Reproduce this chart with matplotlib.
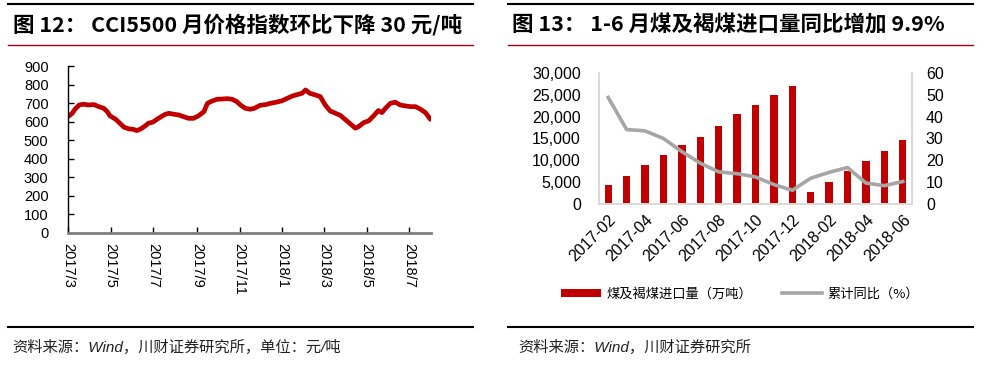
import matplotlib
matplotlib.use("Agg")
import matplotlib.pyplot as plt
from matplotlib.lines import Line2D
from matplotlib.patches import Patch
import pandas as pd
import numpy as np

plt.rcParams['font.family'] = ['Liberation Sans', 'Noto Sans CJK SC', 'DejaVu Sans']

# ---------------- Data: left chart (CCI5500 price index, yuan/ton) ----------------
cci_dates = ['2017-03-01','2017-03-07','2017-03-11','2017-03-17','2017-03-23','2017-03-30',
             '2017-04-07','2017-04-14','2017-04-21','2017-04-26','2017-04-30','2017-05-08',
             '2017-05-15','2017-05-20','2017-05-27','2017-06-02','2017-06-07','2017-06-12',
             '2017-06-18','2017-06-24','2017-06-30','2017-07-06','2017-07-12','2017-07-18',
             '2017-07-23','2017-07-30','2017-08-06','2017-08-13','2017-08-20','2017-08-27',
             '2017-09-03','2017-09-11','2017-09-16','2017-09-23','2017-09-30','2017-10-07',
             '2017-10-14','2017-10-21','2017-10-28','2017-11-02','2017-11-09','2017-11-16',
             '2017-11-22','2017-11-30','2017-12-08','2017-12-15','2017-12-23','2017-12-31',
             '2018-01-08','2018-01-15','2018-01-22','2018-01-29','2018-02-03','2018-02-09',
             '2018-02-17','2018-02-24','2018-03-03','2018-03-10','2018-03-18','2018-03-25',
             '2018-04-01','2018-04-08','2018-04-15','2018-04-20','2018-04-27','2018-05-04',
             '2018-05-11','2018-05-18','2018-05-23','2018-05-28','2018-06-04','2018-06-11',
             '2018-06-18','2018-06-25','2018-07-03','2018-07-10','2018-07-17','2018-07-24',
             '2018-07-31']
cci_values = [627, 645, 667, 690, 694, 690,
              692, 681, 672, 654, 631, 613,
              588, 570, 561, 559, 552, 559,
              574, 592, 597, 613, 627, 640,
              645, 640, 636, 627, 618, 618,
              631, 654, 699, 712, 721, 722,
              724, 721, 708, 690, 672, 667,
              672, 688, 692, 699, 705, 712,
              726, 738, 746, 753, 771, 753,
              744, 735, 690, 658, 645, 633,
              610, 588, 565, 574, 595, 604,
              631, 660, 649, 672, 699, 705,
              690, 685, 681, 681, 667, 649,
              613]
left_tick_labels = ['2017/3', '2017/5', '2017/7', '2017/9', '2017/11',
                    '2018/1', '2018/3', '2018/5', '2018/7']
left_yticks = [0, 100, 200, 300, 400, 500, 600, 700, 800, 900]
left_xlim = ['2017-03-01', '2018-08-01']

# ---------------- Data: right chart (coal & lignite imports) ----------------
months = ['2017-02','2017-03','2017-04','2017-05','2017-06','2017-07','2017-08','2017-09',
          '2017-10','2017-11','2017-12','2018-01','2018-02','2018-03','2018-04','2018-05',
          '2018-06']
imports = [4300, 6500, 9000, 11200, 13400, 15300, 17800, 20600,
           22700, 24900, 27100, 2800, 5000, 7600, 9900, 12100, 14700]
yoy = [48.8, 34.1, 33.5, 30.0, 24.0, 18.7, 14.7, 13.9,
       12.4, 8.9, 6.3, 11.8, 14.5, 16.7, 9.6, 8.4, 10.3]
right_tick_labels = ['2017-02','2017-04','2017-06','2017-08','2017-10','2017-12',
                     '2018-02','2018-04','2018-06']
bar_label = '煤及褐煤进口量（万吨）'
line_label = '累计同比（%）'

title_left = '图 12： CCI5500 月价格指数环比下降 30 元/吨'
title_right = '图 13： 1-6 月煤及褐煤进口量同比增加 9.9%'
source_left = '资料来源：Wind，川财证券研究所，单位：元/吨'
source_right = '资料来源：Wind，川财证券研究所'

RED = '#C00000'
GREY = '#A6A6A6'

W, H = 995, 368
fig = plt.figure(figsize=(W / 100, H / 100), dpi=100)

def fx(px):
    return px / W

def fy(py):
    return 1 - py / H

# Decorative rules
for x0, x1 in [(8, 473), (508, 973)]:
    fig.add_artist(Line2D([fx(x0), fx(x1)], [fy(4), fy(4)], color='black', lw=1.5))
    fig.add_artist(Line2D([fx(x0), fx(x1)], [fy(45), fy(45)], color='#A0001E', lw=1.0))
    fig.add_artist(Line2D([fx(x0), fx(x1)], [fy(327), fy(327)], color='black', lw=1.5))

title_font = ['Noto Sans CJK SC', 'DejaVu Sans']
fig.text(fx(13), fy(25), title_left, family=title_font, fontsize=15.5, fontweight='bold',
         va='center', ha='left', color='black')
fig.text(fx(512), fy(25), title_right, family=title_font, fontsize=15.5, fontweight='bold',
         va='center', ha='left', color='black')

src_font = ['Liberation Sans', 'Noto Sans CJK SC']
fig.text(fx(12), fy(347), source_left, family=src_font, fontsize=11, style='italic',
         va='center', ha='left', color='#222222')
fig.text(fx(518), fy(347), source_right, family=src_font, fontsize=11, style='italic',
         va='center', ha='left', color='#222222')

# ---------------- Left chart ----------------
axL = fig.add_axes([fx(68), fy(233), fx(431) - fx(68), fy(66) - fy(233)])
d = pd.to_datetime(cci_dates)
axL.plot(d, cci_values, color=RED, lw=3.4, solid_joinstyle='round', solid_capstyle='round')
axL.set_ylim(0, 900)
axL.set_yticks(left_yticks)
axL.set_xlim(pd.to_datetime(left_xlim[0]), pd.to_datetime(left_xlim[1]))
tick_pos = pd.to_datetime(left_tick_labels, format='%Y/%m')
axL.set_xticks(tick_pos)
axL.set_xticklabels(left_tick_labels, rotation=-90, ha='center', va='top')
for s in ['top', 'right']:
    axL.spines[s].set_visible(False)
axL.spines['left'].set_color('black')
axL.spines['left'].set_linewidth(1.0)
axL.spines['bottom'].set_color('#808080')
axL.spines['bottom'].set_linewidth(2.0)
axL.tick_params(axis='y', direction='in', length=4, width=1, labelsize=10.5, pad=14)
axL.tick_params(axis='x', direction='in', length=4, width=1, labelsize=10.5, pad=7)

# ---------------- Right chart ----------------
axR = fig.add_axes([fx(599), fy(204), fx(912) - fx(599), fy(73) - fy(204)])
x = np.arange(len(months))
bars = axR.bar(x, imports, width=0.4, color=RED, label=bar_label)
axR.set_ylim(0, 30000)
axR.set_yticks(np.arange(0, 30001, 5000))
axR.yaxis.set_major_formatter(matplotlib.ticker.FuncFormatter(lambda v, p: f'{int(v):,}'))
axR.set_xlim(-0.5, len(months) - 0.5)
axR.set_xticks([months.index(m) for m in right_tick_labels])
axR.set_xticklabels(right_tick_labels, rotation=45, ha='right', va='top',
                    rotation_mode='anchor')
axR2 = axR.twinx()
ln, = axR2.plot(x, yoy, color=GREY, lw=2.6, label=line_label)
axR2.set_ylim(0, 60)
axR2.set_yticks(np.arange(0, 61, 10))
for a in (axR, axR2):
    a.spines['top'].set_visible(False)
    for s in ['left', 'right', 'bottom']:
        a.spines[s].set_color('#D9D9D9')
        a.spines[s].set_linewidth(1.2)
    a.tick_params(length=0, labelsize=11.5)
axR.tick_params(axis='y', pad=13)
axR.tick_params(axis='x', pad=6)
axR2.tick_params(axis='y', pad=10)

leg = fig.legend(handles=[Patch(facecolor=RED, edgecolor='none'),
                          Line2D([0], [0], color=GREY, lw=2.6)],
                 labels=[bar_label, line_label], loc='center',
                 bbox_to_anchor=(fx(740), fy(294)), ncol=2, frameon=False,
                 prop={'family': ['Noto Sans CJK SC', 'DejaVu Sans'], 'size': 9.5},
                 handlelength=3.0, handleheight=0.55, handletextpad=0.4,
                 columnspacing=2.3)

fig.savefig('out.png', dpi=100)
